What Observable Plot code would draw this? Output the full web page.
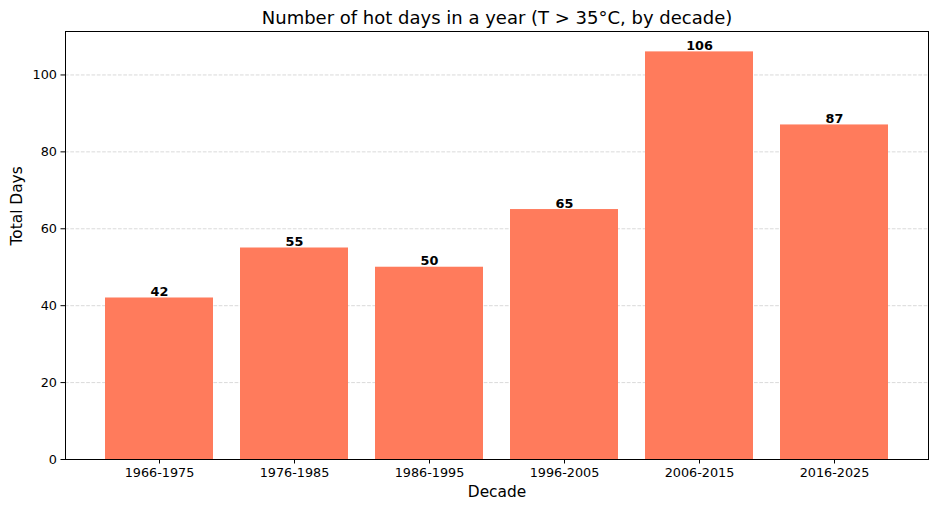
<!DOCTYPE html>
<html>
<head>
<meta charset="utf-8">
<script src="https://cdn.jsdelivr.net/npm/d3@7"></script>
<script src="https://cdn.jsdelivr.net/npm/@observablehq/plot@0.6"></script>
<style>
  html, body { margin: 0; padding: 0; background: #fff; }
  svg { font-family: "DejaVu Sans", sans-serif; }
</style>
</head>
<body>
<div id="chart"></div>
<script>
const decades = ["1966-1975", "1976-1985", "1986-1995", "1996-2005", "2006-2015", "2016-2025"];
const hotDays = [42, 55, 50, 65, 106, 87];
const yTicks = [0, 20, 40, 60, 80, 100];
const titleText = "Number of hot days in a year (T > 35°C, by decade)";
const xLabel = "Decade";
const yLabel = "Total Days";

const data = decades.map((d, i) => ({decade: d, days: hotDays[i]}));
const yMax = d3.max(hotDays) * 1.05;

const chart = Plot.plot({
  width: 936,
  height: 512,
  marginLeft: 65,
  marginRight: 8,
  marginTop: 31,
  marginBottom: 53,
  style: {fontFamily: "DejaVu Sans, sans-serif", fontSize: "12.8px", color: "#000", background: "#fff"},
  x: {domain: decades, paddingInner: 0.2, paddingOuter: 0.289, align: 0.5, label: null},
  y: {domain: [0, yMax], label: null},
  marks: [
    Plot.gridY(yTicks, {stroke: "#b0b0b0", strokeOpacity: 0.6, strokeDasharray: "3.7,1.6", strokeWidth: 0.8}),
    Plot.barY(data, {x: "decade", y: "days", fill: "#ff7b5c"}),
    Plot.text(data, {x: "decade", y: "days", text: d => String(d.days), lineAnchor: "bottom", dy: -2, fontWeight: "bold", fill: "#000", fontSize: 12.8}),
    Plot.axisX({tickSize: 4.5, tickPadding: 4, fontSize: 12.8, stroke: "#000", fill: "#000", label: null}),
    Plot.axisY(yTicks, {tickSize: 4.5, tickPadding: 4, fontSize: 12.8, stroke: "#000", fill: "#000", label: null, tickFormat: d => String(d)}),
    Plot.frame({stroke: "#000", strokeWidth: 1}),
    Plot.text([titleText], {frameAnchor: "top", dy: -8, lineAnchor: "bottom", fontSize: 18, fill: "#000"}),
    Plot.text([xLabel], {frameAnchor: "bottom", dy: 27, lineAnchor: "top", fontSize: 15.4, fill: "#000"}),
    Plot.text([yLabel], {frameAnchor: "left", dx: -48, rotate: -90, fontSize: 15.4, fill: "#000"})
  ]
});
document.getElementById("chart").appendChild(chart);
</script>
</body>
</html>
